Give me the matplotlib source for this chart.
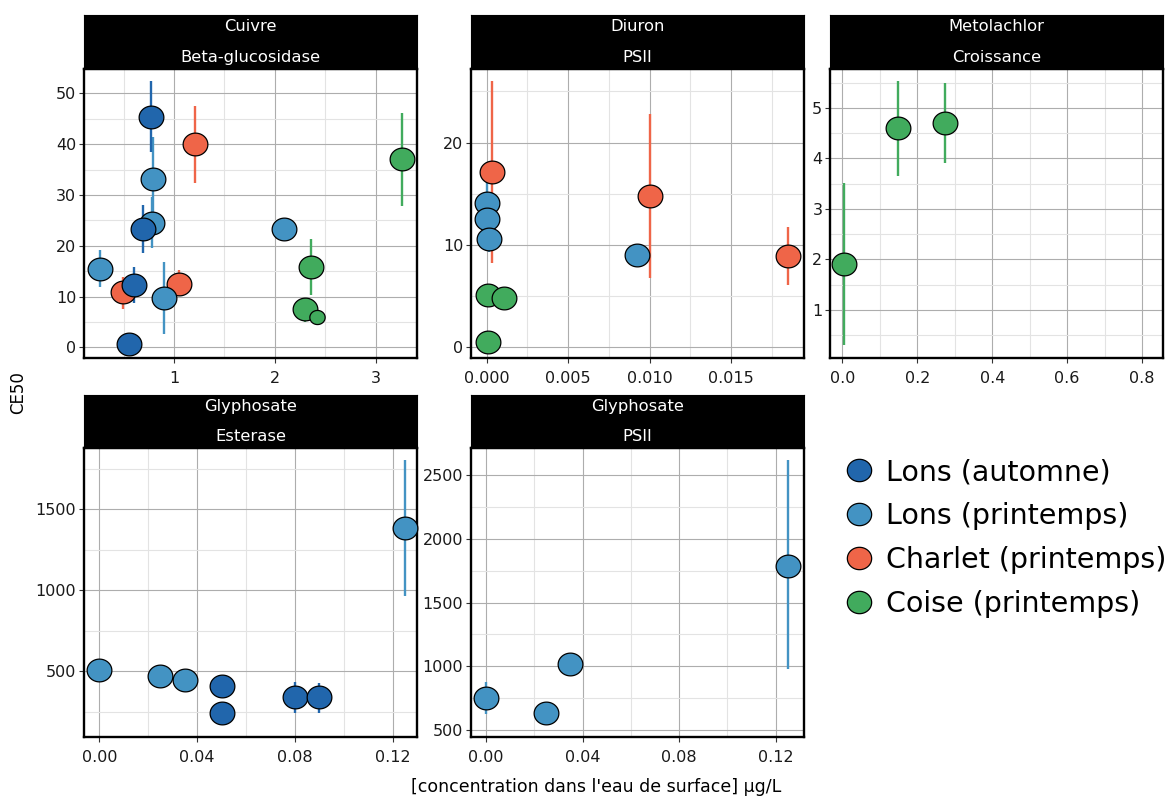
import numpy as np
import matplotlib
matplotlib.use("Agg")
import matplotlib.pyplot as plt
from matplotlib.path import Path
from matplotlib.lines import Line2D

plt.rcParams['font.family'] = ['DejaVu Sans']

# ---------------- data ----------------
groups = ["Lons (automne)", "Lons (printemps)", "Charlet (printemps)", "Coise (printemps)"]
group_colors = ["#2166AC", "#4393C3", "#EF6548", "#41AB5D"]
draw_order = ["Charlet (printemps)", "Coise (printemps)", "Lons (printemps)", "Lons (automne)"]

panel_titles = [("Cuivre", "Beta-glucosidase"), ("Diuron", "PSII"), ("Metolachlor", "Croissance"),
                ("Glyphosate", "Esterase"), ("Glyphosate", "PSII")]

nan = np.nan
# Cuivre / Beta-glucosidase
cu_group = ["Lons (automne)", "Lons (automne)", "Lons (automne)", "Lons (automne)",
            "Lons (printemps)", "Lons (printemps)", "Lons (printemps)", "Lons (printemps)", "Lons (printemps)",
            "Charlet (printemps)", "Charlet (printemps)", "Charlet (printemps)",
            "Coise (printemps)", "Coise (printemps)", "Coise (printemps)", "Coise (printemps)"]
cu_x = [0.77, 0.69, 0.60, 0.55, 0.26, 0.79, 0.78, 0.90, 2.09, 0.49, 1.21, 1.05, 3.26, 2.36, 2.30, 2.42]
cu_y = [45.3, 23.2, 12.3, 0.6, 15.5, 33.1, 24.5, 9.8, 23.2, 10.8, 40.0, 12.5, 37.0, 15.8, 7.5, 6.0]
cu_lo = [38.4, 18.6, 8.7, nan, 11.8, 25.0, 19.5, 2.6, nan, 7.5, 32.3, 10.1, 27.8, 10.4, 5.0, nan]
cu_hi = [52.4, 28.0, 15.9, nan, 19.2, 41.5, 29.6, 16.8, nan, 13.9, 47.6, 15.2, 46.1, 21.3, 9.8, nan]
cu_size = [1, 1, 1, 1, 1, 1, 1, 1, 1, 1, 1, 1, 1, 1, 1, 0.62]

# Diuron / PSII
di_group = ["Charlet (printemps)", "Charlet (printemps)", "Charlet (printemps)",
            "Lons (printemps)", "Lons (printemps)", "Lons (printemps)", "Lons (printemps)",
            "Coise (printemps)", "Coise (printemps)", "Coise (printemps)"]
di_x = [0.00033, 0.0100, 0.0185, 0.0092, 0.0, 0.0, 0.00014, 0.00006, 0.00108, 0.00006]
di_y = [17.1, 14.8, 8.85, 9.0, 14.1, 12.5, 10.6, 5.1, 4.8, 0.43]
di_lo = [8.2, 6.7, 6.0, nan, 13.0, 11.0, 9.3, nan, nan, nan]
di_hi = [26.0, 22.8, 11.7, nan, 16.1, 14.0, 12.0, nan, nan, nan]
di_size = [1] * 10

# Metolachlor / Croissance
me_group = ["Coise (printemps)", "Coise (printemps)", "Coise (printemps)"]
me_x = [0.004, 0.148, 0.273]
me_y = [1.9, 4.6, 4.7]
me_lo = [0.31, 3.65, 3.9]
me_hi = [3.52, 5.53, 5.49]
me_size = [1, 1, 1]

# Glyphosate / Esterase
ge_group = ["Lons (printemps)", "Lons (printemps)", "Lons (printemps)", "Lons (automne)",
            "Lons (automne)", "Lons (automne)", "Lons (automne)", "Lons (printemps)"]
ge_x = [0.0, 0.025, 0.035, 0.05, 0.05, 0.08, 0.09, 0.125]
ge_y = [512, 473, 448, 411, 247, 340, 340, 1383]
ge_lo = [nan, nan, nan, nan, nan, 247, 247, 967]
ge_hi = [nan, nan, nan, nan, nan, 435, 426, 1806]
ge_size = [1] * 8

# Glyphosate / PSII
gp_group = ["Lons (printemps)"] * 4
gp_x = [0.0, 0.025, 0.035, 0.125]
gp_y = [756, 638, 1021, 1787]
gp_lo = [630, nan, nan, 977]
gp_hi = [875, nan, nan, 2615]
gp_size = [1] * 4

panels_data = [
    (cu_group, cu_x, cu_y, cu_lo, cu_hi, cu_size),
    (di_group, di_x, di_y, di_lo, di_hi, di_size),
    (me_group, me_x, me_y, me_lo, me_hi, me_size),
    (ge_group, ge_x, ge_y, ge_lo, ge_hi, ge_size),
    (gp_group, gp_x, gp_y, gp_lo, gp_hi, gp_size),
]

# ---------------- scales ----------------
panel_xlim = [(0.106, 3.41), (-0.00096, 0.01947), (-0.033, 0.856), (-0.0063, 0.130), (-0.0062, 0.1317)]
panel_ylim = [(-2.1, 54.8), (-1.1, 27.2), (0.044, 5.77), (96, 1878), (448, 2709)]
panel_xticks = [[1, 2, 3], [0, 0.005, 0.010, 0.015], [0, 0.2, 0.4, 0.6, 0.8],
                [0, 0.04, 0.08, 0.12], [0, 0.04, 0.08, 0.12]]
panel_xticklabels = [["1", "2", "3"], ["0.000", "0.005", "0.010", "0.015"],
                     ["0.0", "0.2", "0.4", "0.6", "0.8"],
                     ["0.00", "0.04", "0.08", "0.12"], ["0.00", "0.04", "0.08", "0.12"]]
panel_xminor = [[0.5, 1.5, 2.5], [0.0025, 0.0075, 0.0125, 0.0175], [0.1, 0.3, 0.5, 0.7],
                [0.02, 0.06, 0.10], [0.02, 0.06, 0.10]]
panel_yticks = [[0, 10, 20, 30, 40, 50], [0, 10, 20], [1, 2, 3, 4, 5], [500, 1000, 1500],
                [500, 1000, 1500, 2000, 2500]]
panel_yminor = [[5, 15, 25, 35, 45], [5, 15, 25], [0.5, 1.5, 2.5, 3.5, 4.5, 5.5],
                [250, 750, 1250, 1750], [750, 1250, 1750, 2250]]

# ---------------- layout (pixels) ----------------
W, H = 1176, 796
fig = plt.figure(figsize=(W / 100, H / 100), dpi=100)

panel_px = [  # left, right, strip_top, plot_top, plot_bottom
    (84, 417, 15, 69, 358),
    (471, 804, 15, 69, 358),
    (830, 1163, 15, 69, 358),
    (84, 417, 395, 448, 737),
    (471, 804, 395, 448, 737),
]

def fig_rect(l, r, t, b):
    return [l / W, 1 - b / H, (r - l) / W, (b - t) / H]

# elliptical marker (picture is slightly stretched horizontally)
th = np.linspace(0, 2 * np.pi, 73)
ell = Path(np.column_stack([np.cos(th), 0.92 * np.sin(th)]), closed=True)

color_of = dict(zip(groups, group_colors))
MS = 17.8

for i, (l, r, st, pt, pb) in enumerate(panel_px):
    ax = fig.add_axes(fig_rect(l, r, pt, pb))
    sax = fig.add_axes(fig_rect(l, r, st, pt))
    # strip
    sax.set_facecolor("black")
    sax.set_xticks([]); sax.set_yticks([])
    for s in sax.spines.values():
        s.set_color("black")
    t1, t2 = panel_titles[i]
    sax.text(0.5, 0.79, t1, color="white", ha="center", va="center", fontsize=11.8, transform=sax.transAxes)
    sax.text(0.5, 0.21, t2, color="white", ha="center", va="center", fontsize=11.8, transform=sax.transAxes)

    grp, xs, ys, lo, hi, sz = panels_data[i]
    xs = np.array(xs, float); ys = np.array(ys, float)
    lo = np.array(lo, float); hi = np.array(hi, float); sz = np.array(sz, float)
    grp = np.array(grp)

    ax.set_xlim(*panel_xlim[i]); ax.set_ylim(*panel_ylim[i])
    ax.set_xticks(panel_xticks[i]); ax.set_xticklabels(panel_xticklabels[i])
    ax.set_yticks(panel_yticks[i])
    ax.set_xticks(panel_xminor[i], minor=True)
    ax.set_yticks(panel_yminor[i], minor=True)
    ax.grid(True, which="major", color="#adadad", lw=0.8, zorder=0)
    ax.grid(True, which="minor", color="#e3e3e3", lw=0.8, zorder=0)
    ax.set_axisbelow(True)
    ax.tick_params(which="major", length=3.5, width=0.8, color="#333333", labelsize=11.5,
                   labelcolor="#1a1a1a")
    ax.tick_params(axis="x", which="major", pad=6)
    ax.tick_params(axis="y", which="major", pad=2)
    ax.tick_params(which="minor", length=0)
    for s in ax.spines.values():
        s.set_linewidth(1.7); s.set_color("black")

    # error bars first
    for g in draw_order:
        m = (grp == g) & ~np.isnan(lo)
        if m.any():
            ax.vlines(xs[m], lo[m], hi[m], color=color_of[g], lw=1.7, zorder=2)
    # points
    for g in draw_order:
        m = grp == g
        for x, y, s in zip(xs[m], ys[m], sz[m]):
            ax.plot([x], [y], linestyle="none", marker=ell, markersize=MS * s,
                    markerfacecolor=color_of[g], markeredgecolor="black", markeredgewidth=0.9,
                    zorder=3, clip_on=False)

# axis titles
fig.text(596 / W, 1 - 787 / H, "[concentration dans l'eau de surface] µg/L",
         ha="center", va="center", fontsize=12.5)
fig.text(18 / W, 1 - 393 / H, "CE50", ha="center", va="center", rotation=90, fontsize=12)

# legend
handles = [Line2D([], [], linestyle="none", marker=ell, markersize=17.5, markerfacecolor=c,
                  markeredgecolor="black", markeredgewidth=0.9) for c in group_colors]
fig.legend(handles, groups, loc="center left", bbox_to_anchor=(845 / W, 1 - 538 / H),
           frameon=False, fontsize=20.5, handlelength=1.0, handletextpad=0.45,
           labelspacing=0.56, borderpad=0, borderaxespad=0)

fig.savefig("out.png", dpi=100)
